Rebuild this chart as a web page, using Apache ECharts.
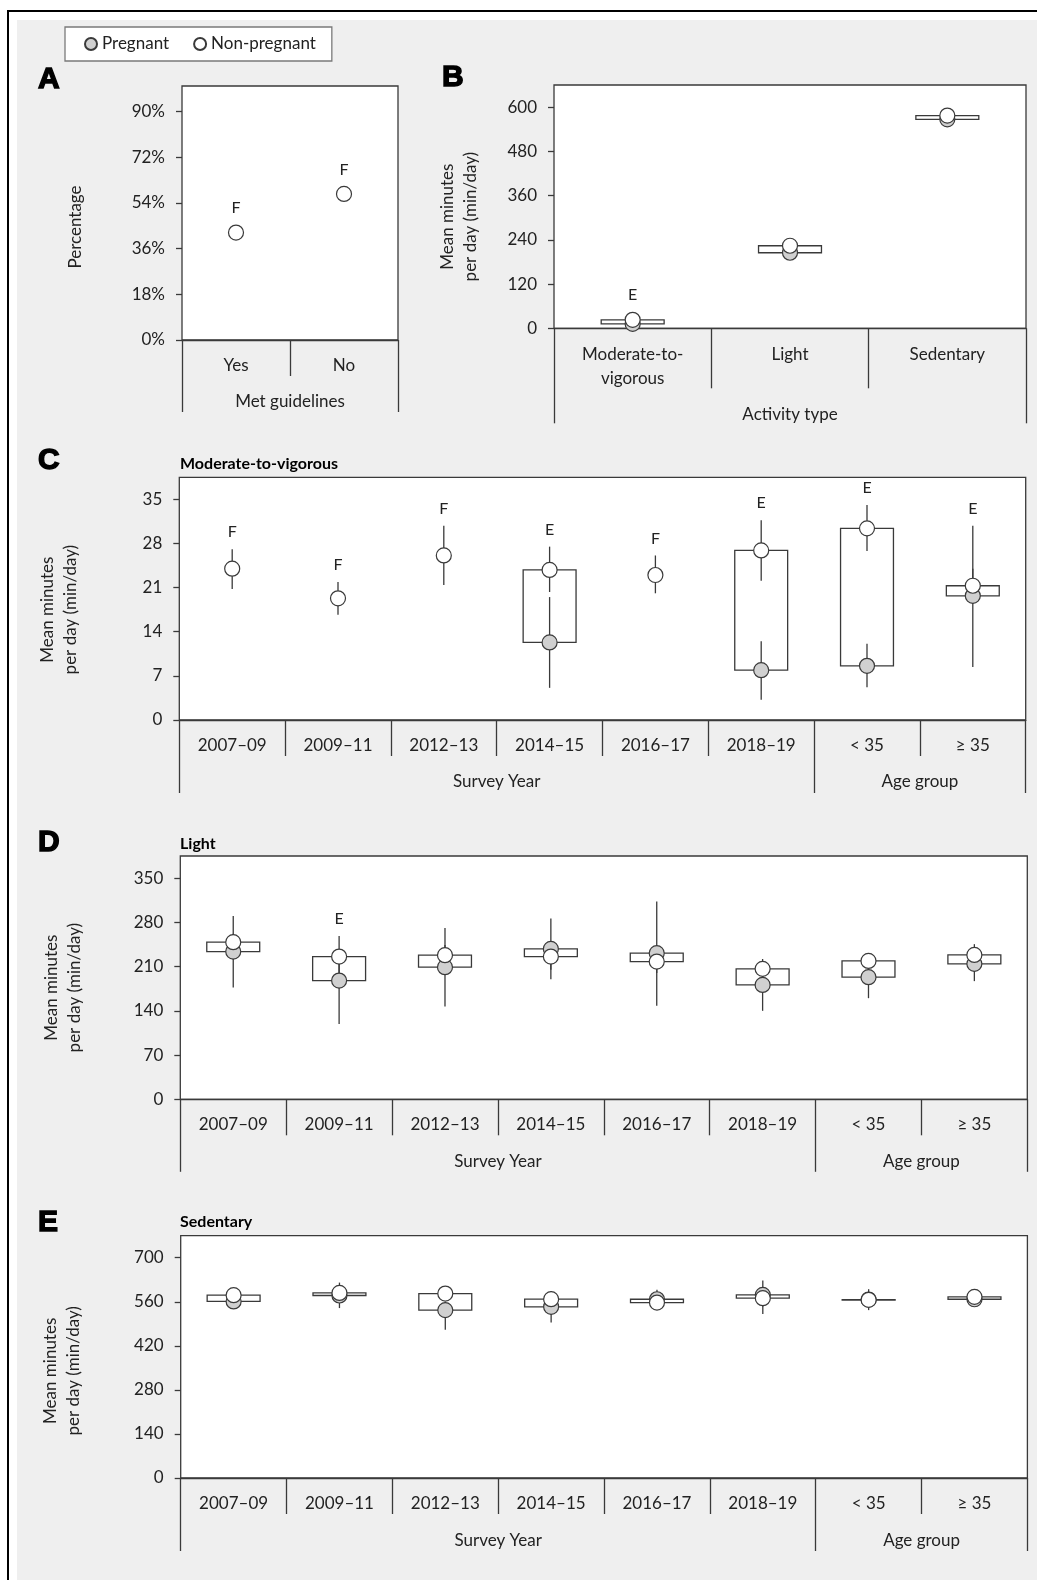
<!DOCTYPE html>
<html>
<head>
<meta charset="utf-8">
<script src="https://cdn.jsdelivr.net/npm/echarts@6/dist/echarts.min.js"></script>
<style>
  html, body { margin: 0; padding: 0; background: #ffffff; }
  #bg { position: absolute; left: 17px; top: 20px; width: 1020px; height: 1560px; background: #efefef; }
  #lineTop { position: absolute; left: 7px; top: 10px; width: 1030px; height: 2px; background: #000; }
  #lineLeft { position: absolute; left: 7px; top: 10px; width: 2px; height: 1570px; background: #000; }
  #chart { position: absolute; left: 0; top: 0; width: 1037px; height: 1580px; }
</style>
</head>
<body>
<div id="bg"></div>
<div id="lineTop"></div>
<div id="lineLeft"></div>
<div id="chart"></div>
<script>
// ---------------- DATA ----------------
const seriesNames = ['Pregnant', 'Non-pregnant'];

// Panel A – met guidelines (percentage)
const aCategories = ['Yes', 'No'];
const aGroups = ['Met guidelines'];
const aGroupSizes = [2];
const aTicks = [0, 18, 36, 54, 72, 90];
const aNonPregnant = [42.3, 57.5];
const aFlags = ['F', 'F'];

// Panel B – activity type
const bCategories = ['Moderate-to-\nvigorous', 'Light', 'Sedentary'];
const bGroups = ['Activity type'];
const bGroupSizes = [3];
const bTicks = [0, 120, 240, 360, 480, 600];
const bPregnant = [12, 205, 567];
const bNonPregnant = [23, 224, 577];
const bFlags = ['E', '', ''];

// Panels C–E share categories
const yearCategories = ['2007–09', '2009–11', '2012–13', '2014–15', '2016–17', '2018–19', '< 35', '≥ 35'];
const yearGroups = ['Survey Year', 'Age group'];
const yearGroupSizes = [6, 2];

// Panel C – Moderate-to-vigorous
const cTicks = [0, 7, 14, 21, 28, 35];
const cPregMean = [null, null, null, 12.3, null, 7.9, 8.6, 19.7];
const cPregLow  = [null, null, null, 5.1, null, 3.2, 5.2, 8.4];
const cPregHigh = [null, null, null, 19.5, null, 12.5, 12.1, 30.8];
const cNonMean  = [24.0, 19.3, 26.1, 23.8, 23.0, 26.9, 30.4, 21.3];
const cNonLow   = [20.8, 16.7, 21.4, 20.3, 20.1, 22.1, 26.8, 18.8];
const cNonHigh  = [27.1, 21.9, 30.8, 27.5, 26.1, 31.7, 34.1, 24.0];
const cFlags    = ['F', 'F', 'F', 'E', 'F', 'E', 'E', 'E'];

// Panel D – Light
const dTicks = [0, 70, 140, 210, 280, 350];
const dPregMean = [233.8, 187.9, 209, 238, 231.2, 181, 193.2, 214.3];
const dPregLow  = [177, 119, 147, 190, 148, 140, 160, 187];
const dPregHigh = [290, 232, 271, 286, 313, 200, 208, 240];
const dNonMean  = [248.6, 225.9, 228, 225.9, 218, 206.4, 219, 228.5];
const dNonLow   = [238, 196, 212, 205, 200, 192, 210, 215];
const dNonHigh  = [262, 258.6, 244, 247, 236, 222, 228, 245.5];
const dFlags    = ['', 'E', '', '', '', '', '', ''];

// Panel E – Sedentary
const eTicks = [0, 140, 280, 420, 560, 700];
const ePregMean = [561, 580, 533.5, 544, 568, 582, 567, 568];
const ePregLow  = [545, 540, 471, 494, 550, 545, 533.5, 558];
const ePregHigh = [577, 621, 560, 575, 598, 628, 600, 590];
const eNonMean  = [581, 588, 586, 568.3, 557.6, 571.5, 566, 575.6];
const eNonLow   = [570, 575, 572, 555, 545, 521, 550, 562];
const eNonHigh  = [592, 600, 600, 594.6, 570, 595, 582, 590];
const eFlags    = ['', '', '', '', '', '', '', ''];

// ---------------- STYLE ----------------
const FONT = 'Lato';
const TEXT = '#222222';
const LINE = '#3a3a3a';
const LW = 1.3;

const nulls = n => new Array(n).fill(null);

const panels = [
  { grid: { left: 182, top: 86, width: 216, height: 254 },
    cats: aCategories, groups: aGroups, groupSizes: aGroupSizes, ticks: aTicks, max: 100,
    fmt: v => v + '%', yName: 'Percentage', nameGap: 95, nameShift: 14,
    boxFrac: 0.5, innerLen: 36, outerLen: 72, m1: 14, m2: 50,
    pm: nulls(2), pl: nulls(2), ph: nulls(2),
    nm: aNonPregnant, nl: nulls(2), nh: nulls(2), flags: aFlags },
  { grid: { left: 554, top: 85, width: 472, height: 243.3 },
    cats: bCategories, groups: bGroups, groupSizes: bGroupSizes, ticks: bTicks, max: 660,
    fmt: v => String(v), yName: 'Mean minutes\nper day (min/day)', nameGap: 72, nameShift: 10,
    boxFrac: 0.4, innerLen: 60, outerLen: 95, m1: 14, m2: 74,
    pm: bPregnant, pl: nulls(3), ph: nulls(3),
    nm: bNonPregnant, nl: nulls(3), nh: nulls(3), flags: bFlags },
  { grid: { left: 179.3, top: 477.3, width: 846.4, height: 242.7 },
    cats: yearCategories, groups: yearGroups, groupSizes: yearGroupSizes, ticks: cTicks, max: 38.5,
    fmt: v => String(v), yName: 'Mean minutes\nper day (min/day)', nameGap: 97, nameShift: 11,
    boxFrac: 0.5, innerLen: 36, outerLen: 73, m1: 13.5, m2: 50,
    pm: cPregMean, pl: cPregLow, ph: cPregHigh, nm: cNonMean, nl: cNonLow, nh: cNonHigh, flags: cFlags },
  { grid: { left: 180.3, top: 856, width: 847, height: 243.3 },
    cats: yearCategories, groups: yearGroups, groupSizes: yearGroupSizes, ticks: dTicks, max: 385,
    fmt: v => String(v), yName: 'Mean minutes\nper day (min/day)', nameGap: 94, nameShift: 10,
    boxFrac: 0.5, innerLen: 36, outerLen: 72.5, m1: 13.5, m2: 50.5,
    pm: dPregMean, pl: dPregLow, ph: dPregHigh, nm: dNonMean, nl: dNonLow, nh: dNonHigh, flags: dFlags },
  { grid: { left: 180.7, top: 1235.7, width: 846.7, height: 242.3 },
    cats: yearCategories, groups: yearGroups, groupSizes: yearGroupSizes, ticks: eTicks, max: 770,
    fmt: v => String(v), yName: 'Mean minutes\nper day (min/day)', nameGap: 96, nameShift: 14,
    boxFrac: 0.5, innerLen: 36, outerLen: 73, m1: 14, m2: 51,
    pm: ePregMean, pl: ePregLow, ph: ePregHigh, nm: eNonMean, nl: eNonLow, nh: eNonHigh, flags: eFlags }
];

const grids = [], xAxes = [], yAxes = [], series = [];
const isNum = v => typeof v === 'number' && isFinite(v);
const SYM = 15;

function makeRender(p) {
  return function (params, api) {
    const i = params.dataIndex;
    const x = api.value(0);
    const vals = [1, 2, 3, 4, 5, 6].map(k => api.value(k));
    const [pm, pl, ph, nm, nl, nh] = vals;
    const cx = api.coord([x, 0])[0];
    const bw = api.size([p.boxFrac, 0])[0];
    const children = [];
    if (isNum(pm) && isNum(nm)) {
      const y1 = api.coord([x, pm])[1], y2 = api.coord([x, nm])[1];
      children.push({ type: 'rect',
        shape: { x: cx - bw / 2, y: Math.min(y1, y2), width: bw, height: Math.max(Math.abs(y1 - y2), 0.5) },
        style: { fill: '#ffffff', stroke: LINE, lineWidth: LW } });
    }
    let top = Infinity;
    [[pl, ph], [nl, nh]].forEach(([lo, hi]) => {
      if (isNum(lo) && isNum(hi)) {
        const ya = api.coord([x, lo])[1], yb = api.coord([x, hi])[1];
        children.push({ type: 'line', shape: { x1: cx, y1: ya, x2: cx, y2: yb },
          style: { stroke: LINE, lineWidth: LW } });
        top = Math.min(top, yb);
      }
    });
    [pm, nm].forEach(m => { if (isNum(m)) top = Math.min(top, api.coord([x, m])[1] - SYM / 2); });
    const flag = p.flags[i];
    if (flag && isFinite(top)) {
      children.push({ type: 'text', style: { text: flag, x: cx, y: top - 17, align: 'center', verticalAlign: 'middle',
        textAlign: 'center', textVerticalAlign: 'middle', fontSize: 16, fontFamily: FONT, fill: TEXT } });
    }
    return { type: 'group', children: children };
  };
}

panels.forEach((p, k) => {
  const n = p.cats.length;
  const bounds = [0]; let acc = 0;
  p.groupSizes.forEach(s => { acc += s; bounds.push(acc); });
  const groupCenters = []; acc = 0;
  p.groupSizes.forEach(s => { groupCenters.push(acc + s / 2); acc += s; });
  const inner = [];
  for (let i = 1; i < n; i++) if (bounds.indexOf(i) < 0) inner.push(i);
  const centers = p.cats.map((_, i) => i + 0.5);
  const labelStyle = { fontSize: 17, fontFamily: FONT, color: TEXT, lineHeight: 24 };

  grids.push(Object.assign({ show: true, backgroundColor: '#ffffff', borderColor: LINE, borderWidth: LW,
    containLabel: false, outerBoundsMode: 'none' }, p.grid));

  xAxes.push({ type: 'value', gridIndex: k, min: 0, max: n, position: 'bottom', offset: 0,
    axisLine: { show: true, onZero: false, lineStyle: { color: LINE, width: LW } },
    axisTick: { show: true, customValues: inner, length: p.innerLen, inside: false, lineStyle: { color: LINE, width: LW } },
    axisLabel: Object.assign({ show: true, customValues: centers, margin: p.m1,
      formatter: v => p.cats[Math.min(n - 1, Math.floor(v))] }, labelStyle),
    splitLine: { show: false } });
  xAxes.push({ type: 'value', gridIndex: k, min: 0, max: n, position: 'bottom', offset: 0,
    axisLine: { show: false },
    axisTick: { show: true, customValues: bounds, length: p.outerLen, inside: false, lineStyle: { color: LINE, width: LW } },
    axisLabel: Object.assign({ show: true, customValues: groupCenters, margin: p.m2,
      formatter: v => { let best = 0; groupCenters.forEach((c, j) => { if (Math.abs(c - v) < Math.abs(groupCenters[best] - v)) best = j; }); return p.groups[best]; } }, labelStyle),
    splitLine: { show: false } });
  yAxes.push({ type: 'value', gridIndex: k, min: 0, max: p.max,
    axisLine: { show: false },
    axisTick: { show: true, customValues: p.ticks, length: 6, lineStyle: { color: LINE, width: LW } },
    axisLabel: { show: true, customValues: p.ticks, formatter: p.fmt, margin: 17, fontSize: 17, fontFamily: FONT, color: TEXT },
    splitLine: { show: false },
    name: p.yName, nameLocation: 'middle', nameRotate: 90, nameGap: p.nameGap,
    nameTextStyle: { fontSize: 17, lineHeight: 23, fontFamily: FONT, color: TEXT, padding: [0, 2 * p.nameShift, 0, 0] } });

  const customData = p.cats.map((_, i) => [i + 0.5, p.pm[i], p.pl[i], p.ph[i], p.nm[i], p.nl[i], p.nh[i]]);
  series.push({ type: 'custom', name: 'ci' + k, xAxisIndex: 2 * k, yAxisIndex: k, renderItem: makeRender(p),
    data: customData, z: 2, silent: true, clip: false, encode: { x: 0, y: 4 } });
  const pPts = [], nPts = [];
  p.cats.forEach((_, i) => {
    if (isNum(p.pm[i])) pPts.push([i + 0.5, p.pm[i]]);
    if (isNum(p.nm[i])) nPts.push([i + 0.5, p.nm[i]]);
  });
  series.push({ type: 'scatter', name: seriesNames[0], xAxisIndex: 2 * k, yAxisIndex: k, data: pPts,
    symbol: 'circle', symbolSize: SYM, z: 3, silent: true,
    itemStyle: { color: '#d0d0d0', borderColor: LINE, borderWidth: 1.2, opacity: 1 } });
  series.push({ type: 'scatter', name: seriesNames[1], xAxisIndex: 2 * k, yAxisIndex: k, data: nPts,
    symbol: 'circle', symbolSize: SYM, z: 4, silent: true,
    itemStyle: { color: '#ffffff', borderColor: LINE, borderWidth: 1.2, opacity: 1 } });
});

function txt(text, x, y, size, family, heavy) {
  const style = { text: text, fontSize: size, fontWeight: 'bold', fontFamily: family, fill: '#000000',
    textAlign: 'left', textVerticalAlign: 'middle', align: 'left', verticalAlign: 'middle' };
  if (heavy) { style.stroke = '#000000'; style.lineWidth = 1.4; }
  return { type: 'text', x: x, y: y, silent: true, style: style };
}
const LETTER = '"Liberation Sans", Arial, sans-serif';

const option = {
  animation: false,
  backgroundColor: 'transparent',
  textStyle: { fontFamily: FONT },
  legend: {
    data: seriesNames, left: 65, top: 27, orient: 'horizontal',
    icon: 'circle', itemWidth: 12, itemHeight: 12, itemGap: 24,
    padding: [7, 16, 7, 19],
    backgroundColor: '#ffffff', borderColor: '#7a7a7a', borderWidth: 1.3, borderRadius: 0,
    selectedMode: false,
    textStyle: { fontSize: 17, fontFamily: FONT, color: TEXT, lineHeight: 20 }
  },
  graphic: [
    txt('A', 38, 80, 30, LETTER, true),
    txt('B', 442, 78, 30, LETTER, true),
    txt('C', 38, 460.5, 30, LETTER, true),
    txt('D', 38, 842.5, 30, LETTER, true),
    txt('E', 38, 1223, 30, LETTER, true),
    txt('Moderate-to-vigorous', 180, 464, 16, FONT, false),
    txt('Light', 180, 843.5, 16, FONT, false),
    txt('Sedentary', 180, 1222, 16, FONT, false)
  ],
  grid: grids,
  xAxis: xAxes,
  yAxis: yAxes,
  series: series
};

const chart = echarts.init(document.getElementById('chart'), null, { renderer: 'canvas' });
chart.setOption(option);
</script>
</body>
</html>
